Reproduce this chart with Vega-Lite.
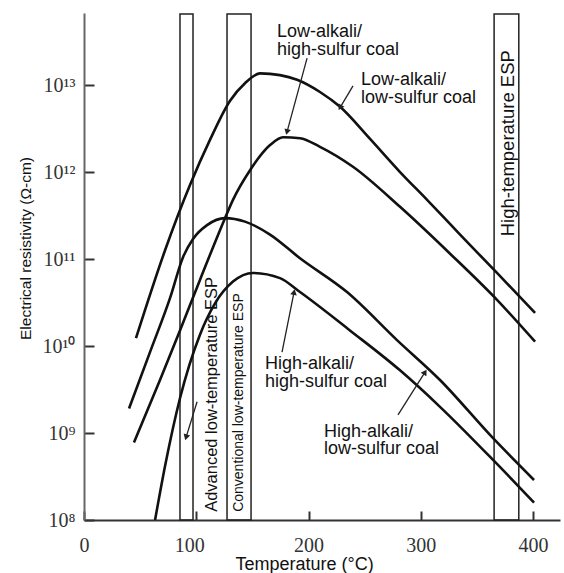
{
  "$schema": "https://vega.github.io/schema/vega-lite/v6.json",
  "width": 476,
  "height": 507,
  "autosize": {"type": "none"},
  "padding": {"left": 84, "top": 13, "right": 4, "bottom": 53},
  "background": "white",
  "config": {"view": {"stroke": null}, "font": "Liberation Sans"},
  "datasets": {
    "curves": [
      {"curve": "Low-alkali/low-sulfur", "t": 46.3, "r": 1.23e10},
      {"curve": "Low-alkali/low-sulfur", "t": 72.2, "r": 1.26e11},
      {"curve": "Low-alkali/low-sulfur", "t": 94.4, "r": 7.08e11},
      {"curve": "Low-alkali/low-sulfur", "t": 112.2, "r": 2.34e12},
      {"curve": "Low-alkali/low-sulfur", "t": 130.1, "r": 6.6e12},
      {"curve": "Low-alkali/low-sulfur", "t": 143.4, "r": 1.05e13},
      {"curve": "Low-alkali/low-sulfur", "t": 156.8, "r": 1.36e13},
      {"curve": "Low-alkali/low-sulfur", "t": 174.6, "r": 1.30e13},
      {"curve": "Low-alkali/low-sulfur", "t": 189.8, "r": 1.15e13},
      {"curve": "Low-alkali/low-sulfur", "t": 210.2, "r": 8.32e12},
      {"curve": "Low-alkali/low-sulfur", "t": 228.1, "r": 5.62e12},
      {"curve": "Low-alkali/low-sulfur", "t": 254.8, "r": 2.40e12},
      {"curve": "Low-alkali/low-sulfur", "t": 281.5, "r": 1.0e12},
      {"curve": "Low-alkali/low-sulfur", "t": 305.6, "r": 4.79e11},
      {"curve": "Low-alkali/low-sulfur", "t": 335.0, "r": 1.91e11},
      {"curve": "Low-alkali/low-sulfur", "t": 367.9, "r": 6.92e10},
      {"curve": "Low-alkali/low-sulfur", "t": 401.8, "r": 2.40e10},
      {"curve": "Low-alkali/high-sulfur", "t": 44.5, "r": 7.76e8},
      {"curve": "Low-alkali/high-sulfur", "t": 67.7, "r": 4.07e9},
      {"curve": "Low-alkali/high-sulfur", "t": 85.5, "r": 1.51e10},
      {"curve": "Low-alkali/high-sulfur", "t": 103.3, "r": 5.75e10},
      {"curve": "Low-alkali/high-sulfur", "t": 125.6, "r": 2.95e11},
      {"curve": "Low-alkali/high-sulfur", "t": 132.7, "r": 4.79e11},
      {"curve": "Low-alkali/high-sulfur", "t": 147.9, "r": 1.05e12},
      {"curve": "Low-alkali/high-sulfur", "t": 165.7, "r": 2.04e12},
      {"curve": "Low-alkali/high-sulfur", "t": 177.3, "r": 2.51e12},
      {"curve": "Low-alkali/high-sulfur", "t": 192.4, "r": 2.45e12},
      {"curve": "Low-alkali/high-sulfur", "t": 210.2, "r": 1.95e12},
      {"curve": "Low-alkali/high-sulfur", "t": 239.6, "r": 1.15e12},
      {"curve": "Low-alkali/high-sulfur", "t": 281.5, "r": 3.98e11},
      {"curve": "Low-alkali/high-sulfur", "t": 326.1, "r": 1.15e11},
      {"curve": "Low-alkali/high-sulfur", "t": 367.9, "r": 3.39e10},
      {"curve": "Low-alkali/high-sulfur", "t": 401.8, "r": 1.12e10},
      {"curve": "High-alkali/low-sulfur", "t": 40.1, "r": 1.91e9},
      {"curve": "High-alkali/low-sulfur", "t": 58.8, "r": 8.51e9},
      {"curve": "High-alkali/low-sulfur", "t": 76.6, "r": 3.55e10},
      {"curve": "High-alkali/low-sulfur", "t": 88.2, "r": 1.05e11},
      {"curve": "High-alkali/low-sulfur", "t": 97.1, "r": 1.70e11},
      {"curve": "High-alkali/low-sulfur", "t": 109.6, "r": 2.45e11},
      {"curve": "High-alkali/low-sulfur", "t": 125.6, "r": 2.95e11},
      {"curve": "High-alkali/low-sulfur", "t": 143.4, "r": 2.69e11},
      {"curve": "High-alkali/low-sulfur", "t": 165.7, "r": 1.91e11},
      {"curve": "High-alkali/low-sulfur", "t": 192.4, "r": 1.02e11},
      {"curve": "High-alkali/low-sulfur", "t": 234.3, "r": 4.17e10},
      {"curve": "High-alkali/low-sulfur", "t": 278.8, "r": 1.17e10},
      {"curve": "High-alkali/low-sulfur", "t": 317.1, "r": 4.07e9},
      {"curve": "High-alkali/low-sulfur", "t": 364.4, "r": 8.71e8},
      {"curve": "High-alkali/low-sulfur", "t": 400.9, "r": 2.88e8},
      {"curve": "High-alkali/high-sulfur", "t": 63.3, "r": 1.0e8},
      {"curve": "High-alkali/high-sulfur", "t": 72.2, "r": 4.17e8},
      {"curve": "High-alkali/high-sulfur", "t": 85.5, "r": 2.51e9},
      {"curve": "High-alkali/high-sulfur", "t": 103.3, "r": 1.35e10},
      {"curve": "High-alkali/high-sulfur", "t": 116.7, "r": 3.09e10},
      {"curve": "High-alkali/high-sulfur", "t": 132.7, "r": 5.50e10},
      {"curve": "High-alkali/high-sulfur", "t": 150.6, "r": 6.92e10},
      {"curve": "High-alkali/high-sulfur", "t": 174.6, "r": 6.03e10},
      {"curve": "High-alkali/high-sulfur", "t": 192.4, "r": 4.17e10},
      {"curve": "High-alkali/high-sulfur", "t": 236.9, "r": 1.51e10},
      {"curve": "High-alkali/high-sulfur", "t": 281.5, "r": 5.25e9},
      {"curve": "High-alkali/high-sulfur", "t": 317.1, "r": 2.0e9},
      {"curve": "High-alkali/high-sulfur", "t": 364.4, "r": 4.90e8},
      {"curve": "High-alkali/high-sulfur", "t": 400.9, "r": 1.58e8}
    ],
    "boxes": [
      {"name": "Advanced low-temperature ESP", "t": 85.5, "t2": 97.1, "r": 1e8, "r2": 6.55e13},
      {"name": "Conventional low-temperature ESP", "t": 127.4, "t2": 148.8, "r": 1e8, "r2": 6.55e13},
      {"name": "High-temperature ESP", "t": 365.3, "t2": 387.3, "r": 1e8, "r2": 6.55e13}
    ],
    "arrows": [
      {"id": "a1", "t": 180.8, "r": 2.88e12, "t2": 198.7, "r2": 2.04e13},
      {"id": "a2", "t": 228.1, "r": 5.50e12, "t2": 239.6, "r2": 9.77e12},
      {"id": "a3", "t": 187.1, "r": 4.17e10, "t2": 176.4, "r2": 8.51e9},
      {"id": "a4", "t": 303.8, "r": 5.01e9, "t2": 279.7, "r2": 1.62e9},
      {"id": "a5", "t": 90.9, "r": 8.91e8, "t2": 100.7, "r2": 2.29e9}
    ],
    "labels": [
      {"label": "Low-alkali/\nhigh-sulfur coal", "t": 171.9, "r": 3.56e13},
      {"label": "Low-alkali/\nlow-sulfur coal", "t": 246.8, "r": 1.0e13},
      {"label": "High-alkali/\nhigh-sulfur coal", "t": 161.2, "r": 5.44e9},
      {"label": "High-alkali/\nlow-sulfur coal", "t": 213.8, "r": 9.0e8}
    ]
  },
  "encoding": {
    "x": {
      "field": "t",
      "type": "quantitative",
      "scale": {"domain": [0, 424], "nice": false, "zero": false},
      "axis": {
        "title": "Temperature (°C)",
        "values": [0, 100, 200, 300, 400],
        "grid": false,
        "domainColor": "#333",
        "domainWidth": 2,
        "tickColor": "#333",
        "tickWidth": 2,
        "tickSize": -9,
        "labelPadding": 24,
        "labelFont": "Liberation Serif",
        "labelFontSize": 20,
        "labelColor": "#333",
        "labelFlush": false,
        "labelOverlap": false,
        "labelOffset": {"condition": {"test": "datum.value === 100", "value": -7}, "value": 0},
        "titleFont": "Liberation Sans",
        "titleFontSize": 18,
        "titleFontWeight": "normal",
        "titleColor": "#111",
        "titleX": 220,
        "titleY": 49,
        "titleAlign": "center",
        "titleBaseline": "alphabetic"
      }
    },
    "y": {
      "field": "r",
      "type": "quantitative",
      "scale": {"type": "log", "domain": [1e8, 6.73e13], "nice": false},
      "axis": {
        "title": "Electrical resistivity (Ω-cm)",
        "values": [1e8, 1e9, 1e10, 1e11, 1e12, 1e13],
        "labelExpr": "'10' + ['⁸','⁹','¹⁰','¹¹','¹²','¹³'][round(log(datum.value)/LN10) - 8]",
        "grid": false,
        "domainColor": "#666",
        "domainWidth": 2,
        "tickColor": "#333",
        "tickWidth": 2,
        "tickSize": -10,
        "labelPadding": 19,
        "labelFont": "Liberation Serif",
        "labelFontSize": 20,
        "labelColor": "#333",
        "labelOverlap": false,
        "titleFont": "Liberation Sans",
        "titleFontSize": 15.5,
        "titleFontWeight": "normal",
        "titleColor": "#111",
        "titleAngle": 270,
        "titleX": -59,
        "titleY": 235,
        "titleAlign": "center",
        "titleBaseline": "middle"
      }
    }
  },
  "layer": [
    {
      "data": {"name": "boxes"},
      "mark": {"type": "rect", "fillOpacity": 0, "stroke": "#222", "strokeWidth": 1.5},
      "encoding": {"x2": {"field": "t2"}, "y2": {"field": "r2"}}
    },
    {
      "data": {"name": "curves"},
      "mark": {"type": "line", "interpolate": "monotone", "color": "#111", "strokeWidth": 2.6},
      "encoding": {"detail": {"field": "curve", "type": "nominal"}}
    },
    {
      "data": {"name": "arrows"},
      "mark": {"type": "rule", "color": "#222", "strokeWidth": 1.3},
      "encoding": {"x2": {"field": "t2"}, "y2": {"field": "r2"}}
    },
    {
      "data": {"name": "arrows"},
      "transform": [{"filter": "datum.id === 'a1'"}],
      "mark": {"type": "point", "shape": "triangle-up", "filled": true, "color": "#222", "size": 45, "opacity": 1, "angle": 195}
    },
    {
      "data": {"name": "arrows"},
      "transform": [{"filter": "datum.id === 'a2'"}],
      "mark": {"type": "point", "shape": "triangle-up", "filled": true, "color": "#222", "size": 45, "opacity": 1, "angle": 211}
    },
    {
      "data": {"name": "arrows"},
      "transform": [{"filter": "datum.id === 'a3'"}],
      "mark": {"type": "point", "shape": "triangle-up", "filled": true, "color": "#222", "size": 45, "opacity": 1, "angle": 11}
    },
    {
      "data": {"name": "arrows"},
      "transform": [{"filter": "datum.id === 'a4'"}],
      "mark": {"type": "point", "shape": "triangle-up", "filled": true, "color": "#222", "size": 45, "opacity": 1, "angle": 32}
    },
    {
      "data": {"name": "arrows"},
      "transform": [{"filter": "datum.id === 'a5'"}],
      "mark": {"type": "point", "shape": "triangle-up", "filled": true, "color": "#222", "size": 45, "opacity": 1, "angle": 197}
    },
    {
      "data": {"name": "labels"},
      "mark": {"type": "text", "align": "left", "baseline": "alphabetic", "fontSize": 18, "font": "Liberation Sans", "color": "#111", "lineBreak": "\n", "lineHeight": 17.5},
      "encoding": {"text": {"field": "label"}}
    },
    {
      "data": {"values": [{"label": "Advanced low-temperature ESP", "t": 114.0, "r": 1.24e8}]},
      "mark": {"type": "text", "angle": 270, "align": "left", "baseline": "middle", "fontSize": 16.5, "font": "Liberation Sans", "color": "#111"},
      "encoding": {"text": {"field": "label"}}
    },
    {
      "data": {"values": [{"label": "Conventional low-temperature ESP", "t": 138.5, "r": 1.24e8}]},
      "mark": {"type": "text", "angle": 270, "align": "left", "baseline": "middle", "fontSize": 14, "font": "Liberation Sans", "color": "#111"},
      "encoding": {"text": {"field": "label"}}
    },
    {
      "data": {"values": [{"label": "High-temperature ESP", "t": 377.3, "r": 2.52e13}]},
      "mark": {"type": "text", "angle": 270, "align": "right", "baseline": "middle", "fontSize": 18.5, "font": "Liberation Sans", "color": "#111"},
      "encoding": {"text": {"field": "label"}}
    }
  ]
}
